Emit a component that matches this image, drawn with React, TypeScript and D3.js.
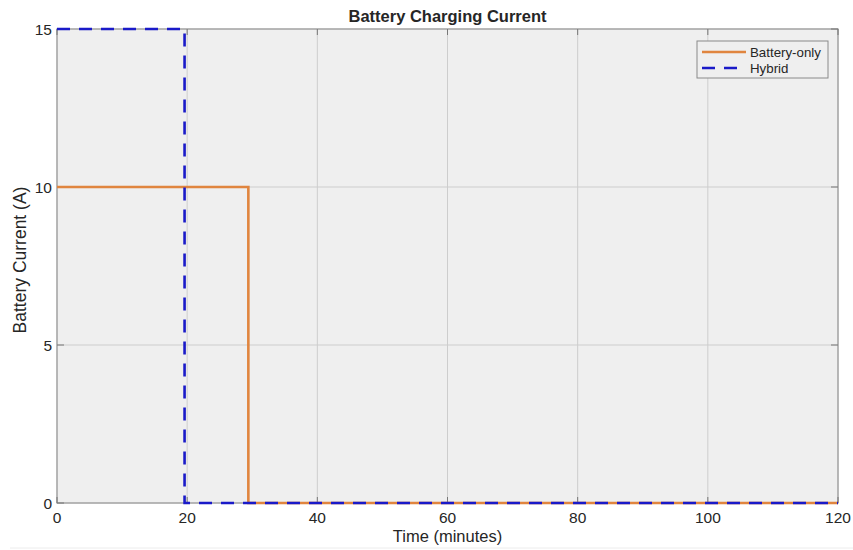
import React, { useEffect, useRef } from "react";
import * as d3 from "d3";

// step data: [time (min), current (A)]
const batteryTime = [0, 29.4, 29.4, 120];
const batteryCurrent = [10, 10, 0, 0];
const hybridTime = [0, 19.6, 19.6, 120];
const hybridCurrent = [15, 15, 0, 0];
const xTicks = [0, 20, 40, 60, 80, 100, 120];
const yTicks = [0, 5, 10, 15];
const seriesNames = ["Battery-only", "Hybrid"];

const App = () => {
  const ref = useRef<SVGSVGElement>(null);

  const width = 853;
  const height = 550;
  const left = 57;
  const right = 838;
  const top = 29;
  const bottom = 503;
  const font = "'Liberation Sans', Arial, sans-serif";
  const orange = "#e0853f";
  const blue = "#1a1ac8";
  const textColor = "#262626";
  const dash = "13,9";

  useEffect(() => {
    const svg = d3.select(ref.current);
    svg.selectAll("*").remove();

    const x = d3.scaleLinear().domain([0, 120]).range([left, right]);
    const y = d3.scaleLinear().domain([0, 15]).range([bottom, top]);

    svg.append("rect").attr("width", width).attr("height", height).attr("fill", "#fff");
    svg
      .append("line")
      .attr("x1", 10)
      .attr("x2", width)
      .attr("y1", 548)
      .attr("y2", 548)
      .attr("stroke", "#ececec");

    svg
      .append("rect")
      .attr("x", left)
      .attr("y", top)
      .attr("width", right - left)
      .attr("height", bottom - top)
      .attr("fill", "#efefef");

    // grid
    const grid = svg.append("g").attr("stroke", "#cdcdcd").attr("stroke-width", 1);
    grid
      .selectAll("line.gx")
      .data(xTicks)
      .enter()
      .append("line")
      .attr("x1", (d) => x(d))
      .attr("x2", (d) => x(d))
      .attr("y1", top)
      .attr("y2", bottom);
    grid
      .selectAll("line.gy")
      .data(yTicks)
      .enter()
      .append("line")
      .attr("x1", left)
      .attr("x2", right)
      .attr("y1", (d) => y(d))
      .attr("y2", (d) => y(d));

    // axes box
    svg
      .append("rect")
      .attr("x", left)
      .attr("y", top)
      .attr("width", right - left)
      .attr("height", bottom - top)
      .attr("fill", "none")
      .attr("stroke", "#9a9a9a")
      .attr("stroke-width", 1.2);

    // inward ticks
    const ticks = svg.append("g").attr("stroke", "#777").attr("stroke-width", 1);
    xTicks.forEach((t) => {
      ticks.append("line").attr("x1", x(t)).attr("x2", x(t)).attr("y1", bottom).attr("y2", bottom - 6);
      ticks.append("line").attr("x1", x(t)).attr("x2", x(t)).attr("y1", top).attr("y2", top + 6);
    });
    yTicks.forEach((t) => {
      ticks.append("line").attr("x1", left).attr("x2", left + 7).attr("y1", y(t)).attr("y2", y(t));
      ticks.append("line").attr("x1", right).attr("x2", right - 7).attr("y1", y(t)).attr("y2", y(t));
    });

    const battery = batteryTime.map((t, i) => [x(t), y(batteryCurrent[i])] as [number, number]);
    const hybrid = hybridTime.map((t, i) => [x(t), y(hybridCurrent[i])] as [number, number]);
    const path = d3.line();

    svg
      .append("path")
      .attr("d", path(battery))
      .attr("fill", "none")
      .attr("stroke", orange)
      .attr("stroke-width", 2.6);
    svg
      .append("path")
      .attr("d", path(hybrid))
      .attr("fill", "none")
      .attr("stroke", blue)
      .attr("stroke-width", 2.6)
      .attr("stroke-dasharray", dash);

    // tick labels
    svg
      .selectAll("text.xt")
      .data(xTicks)
      .enter()
      .append("text")
      .attr("x", (d) => x(d))
      .attr("y", 523)
      .attr("text-anchor", "middle")
      .attr("font-family", font)
      .attr("font-size", 15.5)
      .attr("fill", textColor)
      .text((d) => d);
    svg
      .selectAll("text.yt")
      .data(yTicks)
      .enter()
      .append("text")
      .attr("x", left - 5)
      .attr("y", (d) => y(d) + 5.5)
      .attr("text-anchor", "end")
      .attr("font-family", font)
      .attr("font-size", 15.5)
      .attr("fill", textColor)
      .text((d) => d);

    svg
      .append("text")
      .attr("x", (left + right) / 2)
      .attr("y", 22)
      .attr("text-anchor", "middle")
      .attr("font-family", font)
      .attr("font-size", 16.5)
      .attr("font-weight", "bold")
      .attr("fill", textColor)
      .text("Battery Charging Current");
    svg
      .append("text")
      .attr("x", (left + right) / 2)
      .attr("y", 542)
      .attr("text-anchor", "middle")
      .attr("font-family", font)
      .attr("font-size", 16.5)
      .attr("fill", textColor)
      .text("Time (minutes)");
    svg
      .append("text")
      .attr("transform", `translate(26, ${(top + bottom) / 2 - 6}) rotate(-90)`)
      .attr("text-anchor", "middle")
      .attr("font-family", font)
      .attr("font-size", 17.5)
      .attr("fill", textColor)
      .text("Battery Current (A)");

    // legend
    const lg = svg.append("g").attr("transform", "translate(697, 41)");
    lg.append("rect")
      .attr("width", 131)
      .attr("height", 37)
      .attr("fill", "#efefef")
      .attr("stroke", "#8a8a8a")
      .attr("stroke-width", 1);
    const colors = [orange, blue];
    const dashes = ["none", dash];
    seriesNames.forEach((name, i) => {
      const cy = 11 + i * 16;
      lg.append("line")
        .attr("x1", 5)
        .attr("x2", 49)
        .attr("y1", cy)
        .attr("y2", cy)
        .attr("stroke", colors[i])
        .attr("stroke-width", 2.6)
        .attr("stroke-dasharray", dashes[i]);
      lg.append("text")
        .attr("x", 53)
        .attr("y", cy + 4.5)
        .attr("font-family", font)
        .attr("font-size", 13.3)
        .attr("fill", textColor)
        .text(name);
    });
  }, []);

  return (
    <svg
      ref={ref}
      width={width}
      height={height}
      style={{ position: "absolute", left: 0, top: 0 }}
    />
  );
};

export default App;
